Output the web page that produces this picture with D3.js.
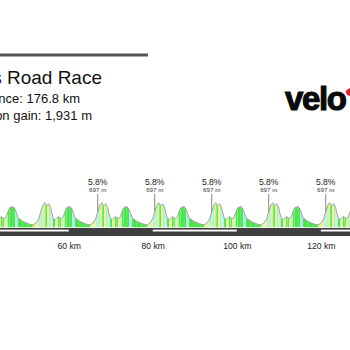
<!DOCTYPE html>
<html>
<head>
<meta charset="utf-8">
<script src="https://cdn.jsdelivr.net/npm/d3@7"></script>
<style>
  html, body { margin: 0; padding: 0; background: #fff; }
  svg { display: block; font-family: "Liberation Sans", Arial, Helvetica, sans-serif; }
</style>
</head>
<body>
<svg id="chart" width="350" height="350"></svg>
<script>
// ---- data ----
const titleText = "Men's Road Race";
const distanceText = "Distance: 176.8 km";
const gainText = "Elevation gain: 1,931 m";
const totalKm = 176.8;

// one circuit lap: distance from lap start (km) and elevation (m)
const lapOffsetKm = [0.00, 0.29, 0.55, 0.95, 1.19, 1.50, 1.90, 2.38, 2.62, 2.93, 3.47, 3.81, 4.12,
                     4.47, 4.83, 5.38, 5.78, 6.19, 6.97, 7.52, 8.16, 9.35, 10.54, 11.73, 12.52, 13.09];
const lapElevationM = [62, 76, 90, 98, 92, 86, 94, 78, 58, 38, 30, 36, 42,
                       40, 34, 42, 62, 78, 83, 70, 38, 23, 14, 9, 18, 34];
// km at which each visible lap starts
const lapStartKm = [39.77, 53.34, 66.90, 80.47, 94.03, 107.60, 121.16, 134.73];

// climb markers
const markerKm = [66.90, 80.47, 94.03, 107.60, 121.16];
const markerGrade = ["5.8%", "5.8%", "5.8%", "5.8%", "5.8%"];
const markerLength = ["697 m", "697 m", "697 m", "697 m", "697 m"];

// axis ticks (km)
const tickKm = [40, 60, 80, 100, 120, 140];

// ---- build route from laps ----
const route = [];
lapStartKm.forEach(s => {
  lapOffsetKm.forEach((d, i) => route.push({ km: s + d, m: lapElevationM[i] }));
});

const svg = d3.select("#chart");

const x = d3.scaleLinear().domain([0, totalKm]).range([-183.4, 559.5]);
const y = d3.scaleLinear().domain([0, 300]).range([227.2, 152.2]);

// gradient colour scale (%)
const CYAN = "#a4f2e6", LIGHT = "#b4efa2", BRIGHT = "#46e646", PALE = "#dcf4a0", YELLOW = "#f2f27e";
const gradeColor = d3.scaleThreshold()
  .domain([-4.5, -2.8, 0.8, 1.7, 3, 4.5, 5.2])
  .range([CYAN, LIGHT, BRIGHT, PALE, YELLOW, BRIGHT, LIGHT, CYAN]);

// header rule
svg.append("rect").attr("x", 0).attr("y", 53.5).attr("width", 148).attr("height", 3).attr("fill", "#545454");

// titles
svg.append("text").attr("x", 102).attr("y", 83.5).attr("text-anchor", "end")
  .attr("font-size", 19).attr("fill", "#111").text(titleText);
svg.append("text").attr("x", 80).attr("y", 103.3).attr("text-anchor", "end")
  .attr("font-size", 13).attr("fill", "#111").text(distanceText);
svg.append("text").attr("x", 92).attr("y", 120).attr("text-anchor", "end")
  .attr("font-size", 13).attr("fill", "#111").text(gainText);

// logo
svg.append("text").attr("x", 285).attr("y", 109.5)
  .attr("font-size", 33).attr("font-weight", 900).attr("letter-spacing", -1.4)
  .attr("fill", "#0a0a0a").attr("stroke", "#0a0a0a").attr("stroke-width", 1.1)
  .text("velo");
svg.append("polygon").attr("points", "345.5,91 350,88 350,96 347,95").attr("fill", "#e3202b");

// profile segments
const area = d3.area().x(d => x(d.km)).y0(y(0)).y1(d => y(d.m));
const segs = d3.pairs(route);
svg.append("g").selectAll("path").data(segs).join("path")
  .attr("d", d => area(d))
  .attr("fill", d => gradeColor((d[1].m - d[0].m) / ((d[1].km - d[0].km) * 1000) * 100))
  .attr("stroke", "#ffffff").attr("stroke-opacity", 0.35).attr("stroke-width", 0.4);

svg.append("path").datum(route)
  .attr("d", d3.line().x(d => x(d.km)).y(d => y(d.m)))
  .attr("fill", "none").attr("stroke", "#a2a2a2").attr("stroke-width", 1);

// distance bar
svg.append("rect").attr("x", 0).attr("y", 228).attr("width", 350).attr("height", 8).attr("fill", "#3f3f3f");
const bandStarts = tickKm.filter((t, i) => i % 2 === 0 && i < tickKm.length - 1);
svg.append("g").selectAll("rect").data(bandStarts).join("rect")
  .attr("x", d => x(d)).attr("y", 229.6)
  .attr("width", d => x(d + 20) - x(d)).attr("height", 1.9)
  .attr("fill", "#ffffff");

// axis labels
const axis = d3.axisBottom(x).tickValues(tickKm).tickSize(0).tickPadding(7)
  .tickFormat(d => d + " km");
const gAxis = svg.append("g").attr("transform", "translate(0,236)").call(axis);
gAxis.select(".domain").remove();
gAxis.selectAll("text").attr("font-size", 8.6).attr("fill", "#222")
  .attr("font-family", "Liberation Sans, Arial, sans-serif");

// climb markers
const elevAt = km => {
  const i = d3.bisector(d => d.km).left(route, km);
  const a = route[Math.max(0, i - 1)], b = route[Math.min(route.length - 1, i)];
  if (b.km === a.km) return a.m;
  return a.m + (b.m - a.m) * (km - a.km) / (b.km - a.km);
};
const gm = svg.append("g").selectAll("g").data(markerKm).join("g");
gm.append("line")
  .attr("x1", d => x(d)).attr("x2", d => x(d))
  .attr("y1", 194).attr("y2", d => y(elevAt(d)))
  .attr("stroke", "#8a8a8a").attr("stroke-width", 1);
gm.append("text").attr("x", d => x(d)).attr("y", 185).attr("text-anchor", "middle")
  .attr("font-size", 8.6).attr("fill", "#222").text((d, i) => markerGrade[i]);
gm.append("text").attr("x", d => x(d)).attr("y", 192).attr("text-anchor", "middle")
  .attr("font-size", 6.2).attr("fill", "#333").text((d, i) => markerLength[i]);
</script>
</body>
</html>
